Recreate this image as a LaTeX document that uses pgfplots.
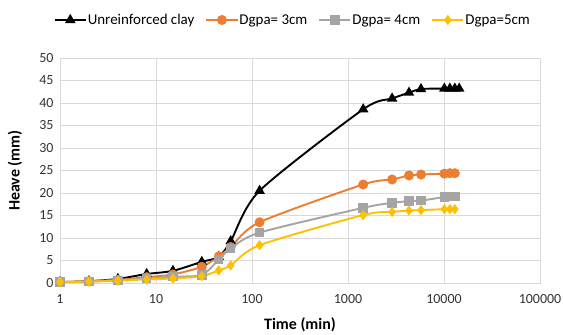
\documentclass[border=0pt]{standalone}
\usepackage{fontspec}
\setmainfont{Carlito}
\usepackage{pgfplots}
\pgfplotsset{compat=1.18}
\usetikzlibrary{calc}
\definecolor{cOrange}{HTML}{ED7D31}
\definecolor{cGray}{HTML}{A5A5A5}
\definecolor{cYellow}{HTML}{FFC000}
\definecolor{cGrid}{HTML}{D9D9D9}
\begin{document}
\begin{tikzpicture}
\begin{axis}[
  name=ax,
  scale only axis,
  width=480bp, height=225bp,
  xmode=log,
  xmin=1, xmax=100000,
  ymin=0, ymax=50,
  ytick={0,5,...,50},
  xtick={1,10,100,1000,10000,100000},
  log ticks with fixed point,
  /pgf/number format/1000 sep={},
  /pgf/number format/assume math mode=true,
  grid=major,
  major grid style={cGrid, line width=0.8bp},
  axis line style={cGrid, line width=0.8bp},
  tick style={draw=none},
  tick label style={font=\fontsize{14}{16}\selectfont, text=black!80},
  yticklabel style={xshift=-3bp},
  xticklabel style={yshift=-8bp},
  xlabel={\textbf{Time (min)}},
  ylabel={\textbf{Heave (mm)}},
  label style={font=\fontsize{16}{18}\selectfont},
  xlabel style={at={(0.5,-0.187)}, anchor=center},
  ylabel style={at={(-0.094,0.5)}, anchor=center},
  legend columns=4,
  legend style={draw=none, fill=none, at={(0.485,1.169)}, anchor=center,
    font=\fontsize{15}{17}\selectfont,
    /tikz/every even column/.append style={column sep=9bp},
    /tikz/every odd column/.append style={column sep=-1bp}},
  legend image code/.code={\draw[mark repeat=2,mark phase=2] plot coordinates {(0cm,0cm) (0.55cm,0cm) (1.1cm,0cm)};},
  every axis plot/.append style={line width=1.9bp, smooth, tension=0.45},
]
\addplot[black, mark=triangle*, mark size=4.2bp, mark options={solid}] coordinates {
(1,0.2) (2,0.4) (4,0.9) (8,2.0) (15,2.7) (30,4.7) (45,5.8) (60,9.3) (120,20.5)
(1440,38.6) (2880,41.0) (4320,42.3) (5760,43.1) (10080,43.2) (11520,43.2) (12960,43.2) (14400,43.2)
};
\addlegendentry{Unreinforced clay}
\addplot[cOrange, mark=*, mark size=4bp] coordinates {
(1,0.2) (2,0.4) (4,0.7) (8,1.3) (15,1.9) (30,3.6) (45,5.9) (60,8.0) (120,13.5)
(1440,21.9) (2880,23.0) (4320,23.9) (5760,24.1) (10080,24.3) (11520,24.4) (12960,24.4)
};
\addlegendentry{Dgpa= 3cm}
\addplot[cGray, mark=square*, mark size=3.8bp] coordinates {
(1,0.2) (2,0.3) (4,0.6) (8,1.0) (15,1.4) (30,1.8) (45,5.2) (60,7.7) (120,11.2)
(1440,16.7) (2880,17.8) (4320,18.2) (5760,18.3) (10080,19.1) (11520,19.2) (12960,19.2)
};
\addlegendentry{Dgpa= 4cm}
\addplot[cYellow, mark=diamond*, mark size=3.6bp] coordinates {
(1,0.2) (2,0.3) (4,0.5) (8,0.8) (15,1.0) (30,1.5) (45,2.8) (60,3.9) (120,8.4)
(1440,15.1) (2880,15.8) (4320,16.1) (5760,16.2) (10080,16.4) (11520,16.4) (12960,16.4)
};
\addlegendentry{Dgpa=5cm}
\end{axis}
\pgfresetboundingbox
\path ($(ax.south west)+(-60bp,-52bp)$) rectangle ($(ax.north east)+(23bp,58bp)$);
\end{tikzpicture}
\end{document}
